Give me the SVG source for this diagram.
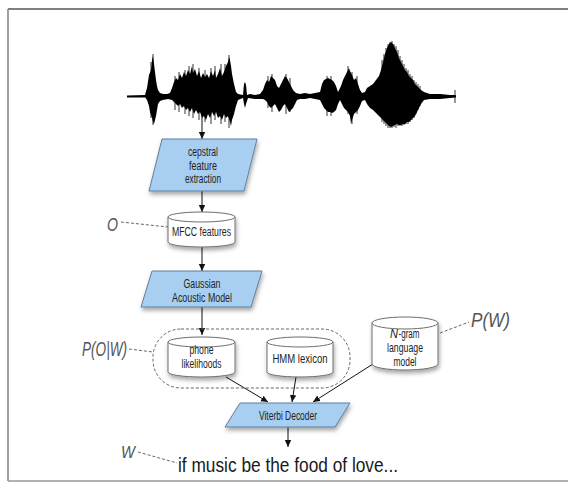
<svg xmlns="http://www.w3.org/2000/svg" width="568" height="482" viewBox="0 0 568 482">
<style>
  .proc{fill:#a8cff2;stroke:#5f7f9c;stroke-width:1}
  .db{fill:#ffffff;stroke:#6e6e6e;stroke-width:1}
  .t{font-family:"Liberation Sans",Arial,sans-serif;font-size:12px;fill:#222;text-anchor:middle}
  .lab{font-family:"Liberation Sans",Arial,sans-serif;font-style:italic;fill:#555}
  .arr{stroke:#111;stroke-width:1;fill:none;marker-end:url(#ah)}
  .dash{stroke:#666;stroke-width:1;fill:none;stroke-dasharray:3,2}
</style>
<defs>
  <marker id="ah" markerWidth="8" markerHeight="8" refX="7" refY="4" orient="auto" markerUnits="userSpaceOnUse">
    <path d="M0,0.8 L7,4 L0,7.2 Z" fill="#111"/>
  </marker>
  <filter id="sh" x="-20%" y="-20%" width="140%" height="160%">
    <feDropShadow dx="1" dy="3" stdDeviation="2" flood-color="#000" flood-opacity="0.35"/>
  </filter>
</defs>
<rect width="568" height="482" fill="#fff"/>
<g id="frame">
  <line x1="8" y1="9" x2="568" y2="9" stroke="#555" stroke-width="1.6"/>
  <line x1="8" y1="9" x2="8" y2="481" stroke="#888" stroke-width="1.6"/>
  <line x1="8" y1="481" x2="568" y2="481" stroke="#999" stroke-width="1.4"/>
</g>
<g id="waveform">
  <line x1="127" y1="96.5" x2="456" y2="96.5" stroke="#000" stroke-width="2.2"/>
  <polygon fill="#000" points="127,96 145,95 147,88 149,75 151,70 152,60 153,56 154,64 155,72 156,80 157,86 158,90 160,93 163,94 167,94 170,93 172,88 174,82 176,78 178,80 180,74 182,78 184,72 186,76 188,70 190,74 192,66 193,73 195,69 197,76 199,71 201,78 203,73 205,77 207,74 209,78 211,71 213,76 215,70 216,78 218,74 220,68 222,76 224,72 226,66 228,62 229,57 230,60 231,66 232,74 234,84 236,92 238,94 243,95 244,84 245,82 246,85 247,95 250,94 255,95 260,94 263,90 265,84 267,80 269,82 271,76 273,78 275,80 277,86 279,88 281,84 283,80 285,76 287,78 289,82 291,86 293,90 296,93 300,94 305,93 310,94 315,93 320,92 322,84 324,80 326,79 328,78 330,79 332,80 334,82 336,86 338,92 341,86 343,80 345,76 347,72 349,68 350,71 352,75 354,80 356,78 358,84 360,90 362,93 365,92 367,88 370,86 373,84 376,80 379,76 381,70 383,62 385,54 387,48 389,44 391,42 393,44 395,48 397,52 399,58 401,62 403,66 405,70 407,72 409,76 411,78 413,80 415,84 417,86 419,88 421,90 424,92 430,94 440,94 450,95 455,95 456,96 456,97 450,98 440,99 430,99 424,100 421,104 419,108 417,112 415,116 413,118 411,120 409,122 407,122 405,124 403,124 401,125 399,125 397,124 395,125 393,126 391,127 389,126 387,124 385,122 383,120 381,118 379,116 377,114 375,112 373,110 370,108 367,104 365,100 362,101 360,106 358,110 356,112 354,114 352,120 351,124 350,116 348,112 346,110 344,108 342,104 340,100 338,104 336,110 334,112 332,113 330,112 328,112 326,110 324,108 322,104 320,100 315,99 310,98 305,99 300,99 297,100 295,104 293,108 291,110 289,112 287,108 285,104 283,106 281,110 279,112 277,108 275,104 273,106 271,108 269,106 267,102 265,100 263,99 255,99 248,98 246,104 245,108 244,104 243,98 238,100 236,106 234,114 232,120 231,126 230,122 228,116 226,118 224,114 222,120 220,116 218,118 216,112 214,116 212,112 210,118 208,114 206,120 204,116 202,118 200,112 198,114 196,110 194,114 192,108 190,112 188,108 186,110 184,106 182,108 180,104 178,106 176,104 174,102 172,100 168,99 163,100 160,101 158,104 157,110 156,116 155,120 154,124 153,122 152,118 150,112 149,106 147,100 145,97 127,97"/>
  <path stroke="#000" stroke-width="0.8" fill="none" d="M151,62V118 M153,54V125 M175,76V110 M179,72V112 M185,70V114 M189,66V116 M193,64V118 M199,68V120 M205,70V122 M211,68V124 M215,66V120 M221,64V124 M225,64V122 M229,55V128 M268,76V108 M272,74V112 M286,74V114 M290,78V112 M327,76V116 M331,76V116 M348,66V114 M352,72V124 M357,76V114 M382,60V122 M384,54V124 M386,48V126 M388,44V128 M390,42V128 M392,41V128 M394,44V127 M396,46V128 M398,50V126 M400,56V126 M402,60V126 M404,64V125 M406,68V124 M408,70V124 M410,74V122 M412,76V120 M414,80V118 M416,82V114 M418,84V110 M420,86V106 M455,90V103"/>
</g>
<g id="connectors">
  <line class="arr" x1="202" y1="116" x2="202" y2="139"/>
  <line class="arr" x1="202" y1="191" x2="202" y2="212"/>
  <line class="arr" x1="202" y1="247" x2="202" y2="271"/>
  <line class="arr" x1="202" y1="307" x2="202" y2="335"/>
  <line class="arr" x1="226" y1="377" x2="268" y2="402"/>
  <line class="arr" x1="296" y1="377" x2="292" y2="402"/>
  <line class="arr" x1="373" y1="364" x2="313" y2="402"/>
  <line class="arr" x1="288" y1="427" x2="288" y2="447"/>
  <line class="dash" x1="121" y1="222" x2="168" y2="227"/>
  <line class="dash" x1="129" y1="349" x2="153" y2="352"/>
  <line class="dash" x1="440" y1="333" x2="469" y2="322"/>
  <line class="dash" x1="138" y1="452" x2="177" y2="463"/>
  <rect class="dash" x="153" y="329" width="197" height="59" rx="28" ry="28"/>
</g>
<g id="cepstral">
  <polygon class="proc" filter="url(#sh)" points="162,139 257,139 244,191 149,191"/>
  <text class="t" x="203" y="156" textLength="30" lengthAdjust="spacingAndGlyphs">cepstral</text>
  <text class="t" x="203" y="170" textLength="28" lengthAdjust="spacingAndGlyphs">feature</text>
  <text class="t" x="203" y="183" textLength="36" lengthAdjust="spacingAndGlyphs">extraction</text>
</g>
<g id="mfcc">
  <path class="db" filter="url(#sh)" d="M168,217 A33.5,5 0 0 1 235,217 L235,242 A33.5,5 0 0 1 168,242 Z"/>
  <path class="db" fill="none" d="M168,217 A33.5,5 0 0 0 235,217"/>
  <text class="t" x="201.5" y="236" textLength="59" lengthAdjust="spacingAndGlyphs">MFCC features</text>
</g>
<g id="gaussian">
  <polygon class="proc" filter="url(#sh)" points="152,271 262,271 251,307 141,307"/>
  <text class="t" x="202" y="288" textLength="37" lengthAdjust="spacingAndGlyphs">Gaussian</text>
  <text class="t" x="202" y="301.5" textLength="60" lengthAdjust="spacingAndGlyphs">Acoustic Model</text>
</g>
<g id="phone">
  <path class="db" filter="url(#sh)" d="M168,342 A33.5,5 0 0 1 235,342 L235,372 A33.5,5 0 0 1 168,372 Z"/>
  <path class="db" fill="none" d="M168,342 A33.5,5 0 0 0 235,342"/>
  <text class="t" x="201.5" y="354" textLength="24" lengthAdjust="spacingAndGlyphs">phone</text>
  <text class="t" x="201.5" y="368" textLength="40" lengthAdjust="spacingAndGlyphs">likelihoods</text>
</g>
<g id="hmm">
  <path class="db" filter="url(#sh)" d="M267,342 A33,5 0 0 1 333,342 L333,372 A33,5 0 0 1 267,372 Z"/>
  <path class="db" fill="none" d="M267,342 A33,5 0 0 0 333,342"/>
  <text class="t" x="300" y="363" textLength="55" lengthAdjust="spacingAndGlyphs">HMM lexicon</text>
</g>
<g id="ngram">
  <path class="db" filter="url(#sh)" d="M372,323 A33,6 0 0 1 438,323 L438,364 A33,6 0 0 1 372,364 Z"/>
  <path class="db" fill="none" d="M372,323 A33,6 0 0 0 438,323"/>
  <text class="t" x="394" y="338" font-style="italic" textLength="8" lengthAdjust="spacingAndGlyphs">N</text>
  <text class="t" x="409" y="338" textLength="21" lengthAdjust="spacingAndGlyphs">-gram</text>
  <text class="t" x="405" y="352" textLength="36" lengthAdjust="spacingAndGlyphs">language</text>
  <text class="t" x="405" y="366" textLength="23" lengthAdjust="spacingAndGlyphs">model</text>
</g>
<g id="viterbi">
  <polygon class="proc" filter="url(#sh)" points="240,403 350,403 335,427 225,427"/>
  <text class="t" x="288" y="420" textLength="58" lengthAdjust="spacingAndGlyphs">Viterbi Decoder</text>
</g>
<g id="labels">
  <text class="lab" x="107" y="231" font-size="18" textLength="11" lengthAdjust="spacingAndGlyphs">O</text>
  <text class="lab" x="82" y="356" font-size="21" textLength="45" lengthAdjust="spacingAndGlyphs">P(O|W)</text>
  <text class="lab" x="471" y="327" font-size="21" textLength="39" lengthAdjust="spacingAndGlyphs">P(W)</text>
  <text class="lab" x="121" y="458" font-size="17" textLength="14" lengthAdjust="spacingAndGlyphs">W</text>
  <text x="178" y="472" font-family="'Liberation Sans',Arial,sans-serif" font-size="21" fill="#1a1a1a" textLength="220" lengthAdjust="spacingAndGlyphs">if music be the food of love...</text>
</g>
</svg>
